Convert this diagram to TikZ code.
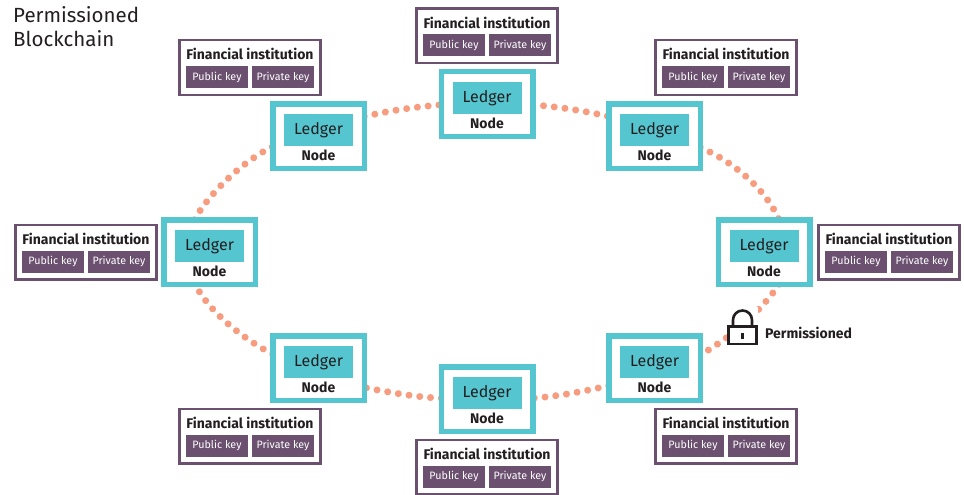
\documentclass[tikz,border=0pt]{standalone}
\usepackage{fontspec}
\setmainfont{Fira Sans}
\usetikzlibrary{backgrounds,decorations.markings}
\definecolor{tealc}{HTML}{55C5D0}
\definecolor{plum}{HTML}{6B5070}
\definecolor{dotc}{HTML}{F79C7F}
\definecolor{inkc}{HTML}{231F20}
\tikzset{
  x=1pt,y=-1pt,
  nodebox/.style={draw=tealc,line width=5.5pt,fill=white,minimum width=91.5pt,minimum height=64.5pt,inner sep=0pt,outer sep=0pt},
  ledgerbox/.style={fill=tealc,minimum width=69pt,minimum height=32pt,inner sep=0pt,text=inkc,font=\fontsize{16}{17}\selectfont},
  nodelabel/.style={inner sep=0pt,text=inkc,font=\fontsize{14}{15}\bfseries\selectfont},
  finbox/.style={draw=plum,line width=2.5pt,fill=white,minimum width=141pt,minimum height=54.5pt,inner sep=0pt},
  fintitle/.style={inner sep=0pt,text=inkc,font=\fontsize{14}{15}\bfseries\selectfont},
  keybox/.style={fill=plum,minimum width=62pt,minimum height=22pt,inner sep=0pt,text=white,font=\fontsize{10.7}{12}\selectfont},
  dotchain/.style={decoration={markings,mark=between positions 0 and 1 step 10.8pt with {\fill[dotc] (0,0) circle[radius=3.5pt];}},decorate},
  lockback/.style={fill=white,minimum width=31pt,minimum height=40pt,inner sep=0pt},
  lockline/.style={draw=inkc,line width=2.6pt},
}
\newcommand{\chainnode}[3]{%
  \node[nodebox] (#1) at (#2,#3) {};
  \node[ledgerbox] (#1l) at (#2,#3-6) {\raisebox{-1pt}{Ledger}};
  \node[nodelabel] (#1n) at (#2,#3+19) {Node};
}
\newcommand{\fininst}[3]{%
  \node[finbox] (#1) at (#2,#3) {};
  \node[fintitle] (#1t) at (#2,#3-13.5) {Financial institution};
  \node[keybox] (#1a) at (#2-33,#3+9.5) {Public key};
  \node[keybox] (#1b) at (#2+33,#3+9.5) {Private key};
}
\begin{document}
\begin{tikzpicture}
\useasboundingbox (0,0) rectangle (964,495);
\chainnode{tl}{318.5}{136}
\chainnode{tp}{487}{104}
\chainnode{tr}{654.5}{136}
\chainnode{rt}{764}{252}
\chainnode{br}{654.5}{368}
\chainnode{bt}{487}{399}
\chainnode{bl}{318.5}{368}
\chainnode{lf}{209.5}{252}
\fininst{ftl}{250}{67.5}
\fininst{ftp}{487}{36}
\fininst{ftr}{726}{67.5}
\fininst{frt}{889}{252}
\fininst{fbr}{726}{436}
\fininst{fbt}{487}{467}
\fininst{fbl}{250}{436}
\fininst{flf}{86}{252}
\begin{pgfonlayer}{background}
\draw[dotchain] (tl.23) .. controls +(25,-6) and +(-25,2) .. (tp.181);
\draw[dotchain] (tp.-1) .. controls +(25,2) and +(-25,-6) .. (tr.157.4);
\draw[dotchain] (tr.-14.7) .. controls +(32,14) and +(-14,-32) .. (rt.65.8);
\draw[dotchain] (rt.-65) .. controls +(-17,26) and +(30,-17) .. (br.16);
\draw[dotchain] (br.201.5) .. controls +(-25,6) and +(25,-2) .. (bt.1);
\draw[dotchain] (bt.179) .. controls +(-25,-1) and +(25,5) .. (bl.-23);
\draw[dotchain] (bl.163) .. controls +(-28,-14) and +(14,28) .. (lf.246);
\draw[dotchain] (lf.115) .. controls +(15,-27) and +(-29,14) .. (tl.193.5);
\end{pgfonlayer}
\node[inner sep=0pt,anchor=north west,align=left,text=inkc,font=\fontsize{20.5}{24}\selectfont] (title) at (13,6) {Permissioned\\Blockchain};
\node[lockback] (lock) at (742.5,327) {};
\draw[lockline] (lock.center) ++(-14,-0.5) rectangle ++(28,17.5);
\draw[lockline] (lock.center) ++(-9.5,-1) -- ++(0,-6) arc[start angle=180,end angle=360,x radius=9.5,y radius=9.5] -- ++(0,6);
\fill[inkc] (lock.center) ++(-1.3,5.5) rectangle ++(2.6,6);
\node[nodelabel,anchor=west] (perm) at (765,333) {Permissioned};
\end{tikzpicture}
\end{document}
